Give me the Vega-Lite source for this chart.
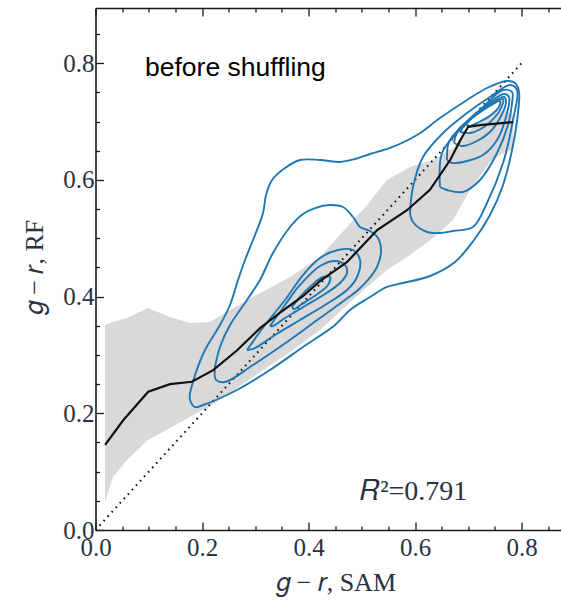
{
 "$schema": "https://vega.github.io/schema/vega-lite/v6.json",
 "width": 465,
 "height": 522,
 "autosize": {"type": "none"},
 "padding": {"left": 95.5, "top": 8, "right": 0, "bottom": 70},
 "background": "white",
 "config": {
  "view": {"stroke": null},
  "axis": {"domainColor": "#1a1a1a", "domainWidth": 1.6, "tickColor": "#1a1a1a", "tickWidth": 1.3, "grid": false, "labelFont": "Liberation Serif", "labelFontSize": 25, "labelColor": "#2a3142", "titleFont": "Liberation Serif", "titleFontSize": 26, "titleFontWeight": "normal", "titleColor": "#2a3142", "labelOverlap": false, "labelFlush": false}
 },
 "datasets": {
  "band": [
   {"x": 0.0178, "lo": 0.048, "hi": 0.3513},
   {"x": 0.0329, "lo": 0.0908, "hi": 0.3565},
   {"x": 0.0592, "lo": 0.12, "hi": 0.3633},
   {"x": 0.0986, "lo": 0.1542, "hi": 0.3805},
   {"x": 0.1399, "lo": 0.1748, "hi": 0.365},
   {"x": 0.1775, "lo": 0.1937, "hi": 0.3548},
   {"x": 0.215, "lo": 0.2125, "hi": 0.3565},
   {"x": 0.2526, "lo": 0.2348, "hi": 0.377},
   {"x": 0.2958, "lo": 0.2622, "hi": 0.3993},
   {"x": 0.3653, "lo": 0.3051, "hi": 0.4336},
   {"x": 0.4216, "lo": 0.3428, "hi": 0.4679},
   {"x": 0.4723, "lo": 0.3856, "hi": 0.5193},
   {"x": 0.5099, "lo": 0.4165, "hi": 0.557},
   {"x": 0.5474, "lo": 0.4456, "hi": 0.5998},
   {"x": 0.5906, "lo": 0.4713, "hi": 0.6221},
   {"x": 0.6338, "lo": 0.5004, "hi": 0.6341},
   {"x": 0.6714, "lo": 0.5313, "hi": 0.6547},
   {"x": 0.7033, "lo": 0.5827, "hi": 0.6855},
   {"x": 0.7408, "lo": 0.6307, "hi": 0.7112},
   {"x": 0.769, "lo": 0.6478, "hi": 0.7198},
   {"x": 0.784, "lo": 0.6512, "hi": 0.7112}
  ],
  "median": [
   {"x": 0.018, "y": 0.146},
   {"x": 0.052, "y": 0.188},
   {"x": 0.099, "y": 0.237},
   {"x": 0.14, "y": 0.25},
   {"x": 0.181, "y": 0.254},
   {"x": 0.221, "y": 0.274},
   {"x": 0.266, "y": 0.308},
   {"x": 0.309, "y": 0.346},
   {"x": 0.346, "y": 0.372},
   {"x": 0.39, "y": 0.401},
   {"x": 0.422, "y": 0.427},
   {"x": 0.472, "y": 0.459},
   {"x": 0.529, "y": 0.514},
   {"x": 0.585, "y": 0.548},
   {"x": 0.628, "y": 0.583},
   {"x": 0.666, "y": 0.634},
   {"x": 0.685, "y": 0.668},
   {"x": 0.7, "y": 0.691},
   {"x": 0.722, "y": 0.694},
   {"x": 0.784, "y": 0.699}
  ],
  "diag": [
   {"x": 0.0, "y": 0.0},
   {"x": 0.8, "y": 0.8}
  ],
  "contours": [
   {"c": "L1", "i": 1, "x": 0.1775, "y": 0.2348},
   {"c": "L1", "i": 2, "x": 0.1869, "y": 0.2656},
   {"c": "L1", "i": 3, "x": 0.2056, "y": 0.3085},
   {"c": "L1", "i": 4, "x": 0.2338, "y": 0.3513},
   {"c": "L1", "i": 5, "x": 0.2526, "y": 0.3856},
   {"c": "L1", "i": 6, "x": 0.2676, "y": 0.4285},
   {"c": "L1", "i": 7, "x": 0.2808, "y": 0.4627},
   {"c": "L1", "i": 8, "x": 0.2995, "y": 0.5056},
   {"c": "L1", "i": 9, "x": 0.3146, "y": 0.5433},
   {"c": "L1", "i": 10, "x": 0.3202, "y": 0.5741},
   {"c": "L1", "i": 11, "x": 0.3315, "y": 0.5998},
   {"c": "L1", "i": 12, "x": 0.3559, "y": 0.6204},
   {"c": "L1", "i": 13, "x": 0.384, "y": 0.6341},
   {"c": "L1", "i": 14, "x": 0.4216, "y": 0.6341},
   {"c": "L1", "i": 15, "x": 0.4592, "y": 0.6307},
   {"c": "L1", "i": 16, "x": 0.4873, "y": 0.6358},
   {"c": "L1", "i": 17, "x": 0.5155, "y": 0.6444},
   {"c": "L1", "i": 18, "x": 0.5531, "y": 0.6547},
   {"c": "L1", "i": 19, "x": 0.6038, "y": 0.6769},
   {"c": "L1", "i": 20, "x": 0.6469, "y": 0.7061},
   {"c": "L1", "i": 21, "x": 0.6977, "y": 0.7369},
   {"c": "L1", "i": 22, "x": 0.7352, "y": 0.7575},
   {"c": "L1", "i": 23, "x": 0.7728, "y": 0.7695},
   {"c": "L1", "i": 24, "x": 0.7878, "y": 0.7661},
   {"c": "L1", "i": 25, "x": 0.7953, "y": 0.7506},
   {"c": "L1", "i": 26, "x": 0.7934, "y": 0.7147},
   {"c": "L1", "i": 27, "x": 0.7822, "y": 0.6512},
   {"c": "L1", "i": 28, "x": 0.7653, "y": 0.5913},
   {"c": "L1", "i": 29, "x": 0.7408, "y": 0.5398},
   {"c": "L1", "i": 30, "x": 0.7108, "y": 0.497},
   {"c": "L1", "i": 31, "x": 0.6751, "y": 0.4593},
   {"c": "L1", "i": 32, "x": 0.6282, "y": 0.4353},
   {"c": "L1", "i": 33, "x": 0.5775, "y": 0.4233},
   {"c": "L1", "i": 34, "x": 0.5474, "y": 0.4165},
   {"c": "L1", "i": 35, "x": 0.5155, "y": 0.3993},
   {"c": "L1", "i": 36, "x": 0.4779, "y": 0.377},
   {"c": "L1", "i": 37, "x": 0.4498, "y": 0.3513},
   {"c": "L1", "i": 38, "x": 0.3897, "y": 0.3136},
   {"c": "L1", "i": 39, "x": 0.3277, "y": 0.2742},
   {"c": "L1", "i": 40, "x": 0.2657, "y": 0.2399},
   {"c": "L1", "i": 41, "x": 0.2019, "y": 0.2142},
   {"c": "L1", "i": 42, "x": 0.1869, "y": 0.2108},
   {"c": "L1", "i": 43, "x": 0.1775, "y": 0.2228},
   {"c": "L1", "i": 44, "x": 0.1775, "y": 0.2348},
   {"c": "L2", "i": 1, "x": 0.2244, "y": 0.2794},
   {"c": "L2", "i": 2, "x": 0.2338, "y": 0.3136},
   {"c": "L2", "i": 3, "x": 0.2526, "y": 0.3513},
   {"c": "L2", "i": 4, "x": 0.2845, "y": 0.3942},
   {"c": "L2", "i": 5, "x": 0.3089, "y": 0.4285},
   {"c": "L2", "i": 6, "x": 0.3333, "y": 0.4747},
   {"c": "L2", "i": 7, "x": 0.3653, "y": 0.5193},
   {"c": "L2", "i": 8, "x": 0.3897, "y": 0.5416},
   {"c": "L2", "i": 9, "x": 0.4122, "y": 0.5518},
   {"c": "L2", "i": 10, "x": 0.4404, "y": 0.557},
   {"c": "L2", "i": 11, "x": 0.4648, "y": 0.5536},
   {"c": "L2", "i": 12, "x": 0.4836, "y": 0.5364},
   {"c": "L2", "i": 13, "x": 0.4967, "y": 0.5193},
   {"c": "L2", "i": 14, "x": 0.5155, "y": 0.5124},
   {"c": "L2", "i": 15, "x": 0.5305, "y": 0.5004},
   {"c": "L2", "i": 16, "x": 0.5362, "y": 0.4764},
   {"c": "L2", "i": 17, "x": 0.5286, "y": 0.4507},
   {"c": "L2", "i": 18, "x": 0.5117, "y": 0.4285},
   {"c": "L2", "i": 19, "x": 0.493, "y": 0.4113},
   {"c": "L2", "i": 20, "x": 0.4685, "y": 0.3942},
   {"c": "L2", "i": 21, "x": 0.4216, "y": 0.3633},
   {"c": "L2", "i": 22, "x": 0.3596, "y": 0.3222},
   {"c": "L2", "i": 23, "x": 0.2958, "y": 0.2828},
   {"c": "L2", "i": 24, "x": 0.2432, "y": 0.2536},
   {"c": "L2", "i": 25, "x": 0.2263, "y": 0.2571},
   {"c": "L2", "i": 26, "x": 0.2244, "y": 0.2794},
   {"c": "L3", "i": 1, "x": 0.2845, "y": 0.3085},
   {"c": "L3", "i": 2, "x": 0.3183, "y": 0.3513},
   {"c": "L3", "i": 3, "x": 0.3559, "y": 0.3942},
   {"c": "L3", "i": 4, "x": 0.3897, "y": 0.437},
   {"c": "L3", "i": 5, "x": 0.4216, "y": 0.4662},
   {"c": "L3", "i": 6, "x": 0.4554, "y": 0.4799},
   {"c": "L3", "i": 7, "x": 0.4836, "y": 0.4799},
   {"c": "L3", "i": 8, "x": 0.4967, "y": 0.4627},
   {"c": "L3", "i": 9, "x": 0.4911, "y": 0.4336},
   {"c": "L3", "i": 10, "x": 0.4723, "y": 0.4113},
   {"c": "L3", "i": 11, "x": 0.431, "y": 0.3856},
   {"c": "L3", "i": 12, "x": 0.384, "y": 0.3599},
   {"c": "L3", "i": 13, "x": 0.3371, "y": 0.3342},
   {"c": "L3", "i": 14, "x": 0.2995, "y": 0.3119},
   {"c": "L3", "i": 15, "x": 0.2845, "y": 0.3085},
   {"c": "L4", "i": 1, "x": 0.3277, "y": 0.3496},
   {"c": "L4", "i": 2, "x": 0.3559, "y": 0.3856},
   {"c": "L4", "i": 3, "x": 0.384, "y": 0.4199},
   {"c": "L4", "i": 4, "x": 0.4216, "y": 0.4524},
   {"c": "L4", "i": 5, "x": 0.4498, "y": 0.461},
   {"c": "L4", "i": 6, "x": 0.4685, "y": 0.4542},
   {"c": "L4", "i": 7, "x": 0.4723, "y": 0.4404},
   {"c": "L4", "i": 8, "x": 0.4592, "y": 0.4233},
   {"c": "L4", "i": 9, "x": 0.431, "y": 0.4045},
   {"c": "L4", "i": 10, "x": 0.3934, "y": 0.3839},
   {"c": "L4", "i": 11, "x": 0.3559, "y": 0.3633},
   {"c": "L4", "i": 12, "x": 0.3333, "y": 0.3496},
   {"c": "L4", "i": 13, "x": 0.3277, "y": 0.3496},
   {"c": "L5", "i": 1, "x": 0.369, "y": 0.3822},
   {"c": "L5", "i": 2, "x": 0.384, "y": 0.3993},
   {"c": "L5", "i": 3, "x": 0.4066, "y": 0.4199},
   {"c": "L5", "i": 4, "x": 0.4272, "y": 0.4336},
   {"c": "L5", "i": 5, "x": 0.4404, "y": 0.4336},
   {"c": "L5", "i": 6, "x": 0.4366, "y": 0.4199},
   {"c": "L5", "i": 7, "x": 0.4141, "y": 0.4027},
   {"c": "L5", "i": 8, "x": 0.3878, "y": 0.3873},
   {"c": "L5", "i": 9, "x": 0.3728, "y": 0.3787},
   {"c": "L5", "i": 10, "x": 0.369, "y": 0.3822},
   {"c": "B2", "i": 1, "x": 0.5906, "y": 0.5433},
   {"c": "B2", "i": 2, "x": 0.5962, "y": 0.5878},
   {"c": "B2", "i": 3, "x": 0.615, "y": 0.6392},
   {"c": "B2", "i": 4, "x": 0.6526, "y": 0.6804},
   {"c": "B2", "i": 5, "x": 0.6977, "y": 0.7147},
   {"c": "B2", "i": 6, "x": 0.7408, "y": 0.7421},
   {"c": "B2", "i": 7, "x": 0.7784, "y": 0.7626},
   {"c": "B2", "i": 8, "x": 0.7915, "y": 0.7541},
   {"c": "B2", "i": 9, "x": 0.784, "y": 0.7027},
   {"c": "B2", "i": 10, "x": 0.7653, "y": 0.629},
   {"c": "B2", "i": 11, "x": 0.7352, "y": 0.5604},
   {"c": "B2", "i": 12, "x": 0.7089, "y": 0.5193},
   {"c": "B2", "i": 13, "x": 0.6714, "y": 0.5124},
   {"c": "B2", "i": 14, "x": 0.6469, "y": 0.509},
   {"c": "B2", "i": 15, "x": 0.6225, "y": 0.5107},
   {"c": "B2", "i": 16, "x": 0.5962, "y": 0.5278},
   {"c": "B2", "i": 17, "x": 0.5906, "y": 0.5433},
   {"c": "B3", "i": 1, "x": 0.6469, "y": 0.5878},
   {"c": "B3", "i": 2, "x": 0.6507, "y": 0.6461},
   {"c": "B3", "i": 3, "x": 0.6789, "y": 0.6804},
   {"c": "B3", "i": 4, "x": 0.7221, "y": 0.7198},
   {"c": "B3", "i": 5, "x": 0.7653, "y": 0.7541},
   {"c": "B3", "i": 6, "x": 0.7822, "y": 0.7506},
   {"c": "B3", "i": 7, "x": 0.7822, "y": 0.7318},
   {"c": "B3", "i": 8, "x": 0.7746, "y": 0.6941},
   {"c": "B3", "i": 9, "x": 0.754, "y": 0.6461},
   {"c": "B3", "i": 10, "x": 0.7221, "y": 0.5998},
   {"c": "B3", "i": 11, "x": 0.6901, "y": 0.5793},
   {"c": "B3", "i": 12, "x": 0.6601, "y": 0.5827},
   {"c": "B3", "i": 13, "x": 0.6469, "y": 0.5878},
   {"c": "B4", "i": 1, "x": 0.6601, "y": 0.6341},
   {"c": "B4", "i": 2, "x": 0.6638, "y": 0.665},
   {"c": "B4", "i": 3, "x": 0.6883, "y": 0.6924},
   {"c": "B4", "i": 4, "x": 0.7315, "y": 0.7266},
   {"c": "B4", "i": 5, "x": 0.7671, "y": 0.7472},
   {"c": "B4", "i": 6, "x": 0.7765, "y": 0.7421},
   {"c": "B4", "i": 7, "x": 0.7709, "y": 0.7078},
   {"c": "B4", "i": 8, "x": 0.754, "y": 0.6684},
   {"c": "B4", "i": 9, "x": 0.7277, "y": 0.6427},
   {"c": "B4", "i": 10, "x": 0.6977, "y": 0.6324},
   {"c": "B4", "i": 11, "x": 0.6695, "y": 0.629},
   {"c": "B4", "i": 12, "x": 0.6601, "y": 0.6341},
   {"c": "B5", "i": 1, "x": 0.6732, "y": 0.6632},
   {"c": "B5", "i": 2, "x": 0.6808, "y": 0.6855},
   {"c": "B5", "i": 3, "x": 0.7052, "y": 0.7044},
   {"c": "B5", "i": 4, "x": 0.7408, "y": 0.7301},
   {"c": "B5", "i": 5, "x": 0.7671, "y": 0.7421},
   {"c": "B5", "i": 6, "x": 0.7709, "y": 0.7335},
   {"c": "B5", "i": 7, "x": 0.7596, "y": 0.7061},
   {"c": "B5", "i": 8, "x": 0.7408, "y": 0.6821},
   {"c": "B5", "i": 9, "x": 0.7164, "y": 0.6667},
   {"c": "B5", "i": 10, "x": 0.6901, "y": 0.6581},
   {"c": "B5", "i": 11, "x": 0.6732, "y": 0.6632},
   {"c": "B6", "i": 1, "x": 0.6845, "y": 0.6821},
   {"c": "B6", "i": 2, "x": 0.6958, "y": 0.6975},
   {"c": "B6", "i": 3, "x": 0.7202, "y": 0.7147},
   {"c": "B6", "i": 4, "x": 0.7484, "y": 0.7318},
   {"c": "B6", "i": 5, "x": 0.7653, "y": 0.7386},
   {"c": "B6", "i": 6, "x": 0.7634, "y": 0.7266},
   {"c": "B6", "i": 7, "x": 0.7502, "y": 0.7078},
   {"c": "B6", "i": 8, "x": 0.7296, "y": 0.6907},
   {"c": "B6", "i": 9, "x": 0.7033, "y": 0.6804},
   {"c": "B6", "i": 10, "x": 0.6845, "y": 0.6821},
   {"c": "B7", "i": 1, "x": 0.6958, "y": 0.6958},
   {"c": "B7", "i": 2, "x": 0.7108, "y": 0.7095},
   {"c": "B7", "i": 3, "x": 0.7371, "y": 0.7249},
   {"c": "B7", "i": 4, "x": 0.7596, "y": 0.7352},
   {"c": "B7", "i": 5, "x": 0.7577, "y": 0.7249},
   {"c": "B7", "i": 6, "x": 0.7427, "y": 0.7112},
   {"c": "B7", "i": 7, "x": 0.7202, "y": 0.6992},
   {"c": "B7", "i": 8, "x": 0.7014, "y": 0.6924},
   {"c": "B7", "i": 9, "x": 0.6958, "y": 0.6958}
  ]
 },
 "resolve": {"axis": {"x": "independent", "y": "independent"}},
 "layer": [
  {
   "data": {"name": "band"},
   "mark": {"type": "area", "color": "#d9d9d9", "opacity": 1},
   "encoding": {
    "x": {"field": "x", "type": "quantitative", "scale": {"domain": [0, 0.8732], "nice": false, "zero": false},
     "axis": {"orient": "bottom", "values": [0, 0.05, 0.1, 0.15, 0.2, 0.25, 0.3, 0.35, 0.4, 0.45, 0.5, 0.55, 0.6, 0.65, 0.7, 0.75, 0.8, 0.85],
      "tickSize": {"condition": {"test": "round(datum.value*20) % 4 === 0", "value": -8}, "value": -4},
      "labelExpr": "round(datum.value*20) % 4 === 0 ? format(datum.value, '.1f') : ''",
      "labelPadding": 13, "labelBaseline": "top",
      "title": "𝑔 − 𝑟, SAM", "titleX": 240, "titleY": 60, "titleAlign": "center", "titleBaseline": "alphabetic", "titleAnchor": null}},
    "y": {"field": "hi", "type": "quantitative", "scale": {"domain": [0, 0.8946], "nice": false, "zero": false},
     "axis": {"orient": "left", "values": [0, 0.05, 0.1, 0.15, 0.2, 0.25, 0.3, 0.35, 0.4, 0.45, 0.5, 0.55, 0.6, 0.65, 0.7, 0.75, 0.8, 0.85],
      "tickSize": {"condition": {"test": "round(datum.value*20) % 4 === 0", "value": -8}, "value": -4},
      "labelExpr": "round(datum.value*20) % 4 === 0 ? format(datum.value, '.1f') : ''",
      "labelPadding": 9.5,
      "title": "𝑔 − 𝑟, RF", "titleX": -53, "titleY": 259, "titleAngle": -90, "titleAlign": "center", "titleBaseline": "alphabetic", "titleAnchor": null}},
    "y2": {"field": "lo"}
   }
  },
  {
   "data": {"name": "diag"},
   "mark": {"type": "line", "color": "#111111", "strokeWidth": 2, "strokeDash": [1.6, 4.4], "strokeCap": "butt"},
   "encoding": {
    "x": {"field": "x", "type": "quantitative", "scale": {"domain": [0, 0.8732], "nice": false, "zero": false},
     "axis": {"orient": "top", "values": [0, 0.05, 0.1, 0.15, 0.2, 0.25, 0.3, 0.35, 0.4, 0.45, 0.5, 0.55, 0.6, 0.65, 0.7, 0.75, 0.8, 0.85],
      "tickSize": {"condition": {"test": "round(datum.value*20) % 4 === 0", "value": -8}, "value": -4},
      "labels": false, "title": null}},
    "y": {"field": "y", "type": "quantitative", "scale": {"domain": [0, 0.8946], "nice": false, "zero": false}, "axis": null}
   }
  },
  {
   "data": {"name": "contours"},
   "mark": {"type": "line", "color": "#1f77b4", "strokeWidth": 1.9, "interpolate": "catmull-rom"},
   "encoding": {
    "x": {"field": "x", "type": "quantitative", "scale": {"domain": [0, 0.8732], "nice": false, "zero": false}, "axis": null},
    "y": {"field": "y", "type": "quantitative", "scale": {"domain": [0, 0.8946], "nice": false, "zero": false}, "axis": null},
    "detail": {"field": "c", "type": "nominal"},
    "order": {"field": "i", "type": "quantitative"}
   }
  },
  {
   "data": {"name": "median"},
   "mark": {"type": "line", "color": "#111111", "strokeWidth": 2.2},
   "encoding": {
    "x": {"field": "x", "type": "quantitative", "scale": {"domain": [0, 0.8732], "nice": false, "zero": false}, "axis": null},
    "y": {"field": "y", "type": "quantitative", "scale": {"domain": [0, 0.8946], "nice": false, "zero": false}, "axis": null}
   }
  },
  {
   "data": {"values": [{"x": 0.093, "y": 0.778, "t": "before shuffling"}]},
   "mark": {"type": "text", "font": "Liberation Sans", "fontSize": 26.5, "align": "left", "baseline": "alphabetic", "color": "#000000"},
   "encoding": {
    "x": {"field": "x", "type": "quantitative", "scale": {"domain": [0, 0.8732], "nice": false, "zero": false}, "axis": null},
    "y": {"field": "y", "type": "quantitative", "scale": {"domain": [0, 0.8946], "nice": false, "zero": false}, "axis": null},
    "text": {"field": "t"}
   }
  },
  {
   "data": {"values": [{"x": 0.497, "y": 0.051, "t": "𝑅²=0.791"}]},
   "mark": {"type": "text", "font": "Liberation Serif", "fontSize": 28, "align": "left", "baseline": "alphabetic", "color": "#2a3142"},
   "encoding": {
    "x": {"field": "x", "type": "quantitative", "scale": {"domain": [0, 0.8732], "nice": false, "zero": false}, "axis": null},
    "y": {"field": "y", "type": "quantitative", "scale": {"domain": [0, 0.8946], "nice": false, "zero": false}, "axis": null},
    "text": {"field": "t"}
   }
  }
 ]
}
